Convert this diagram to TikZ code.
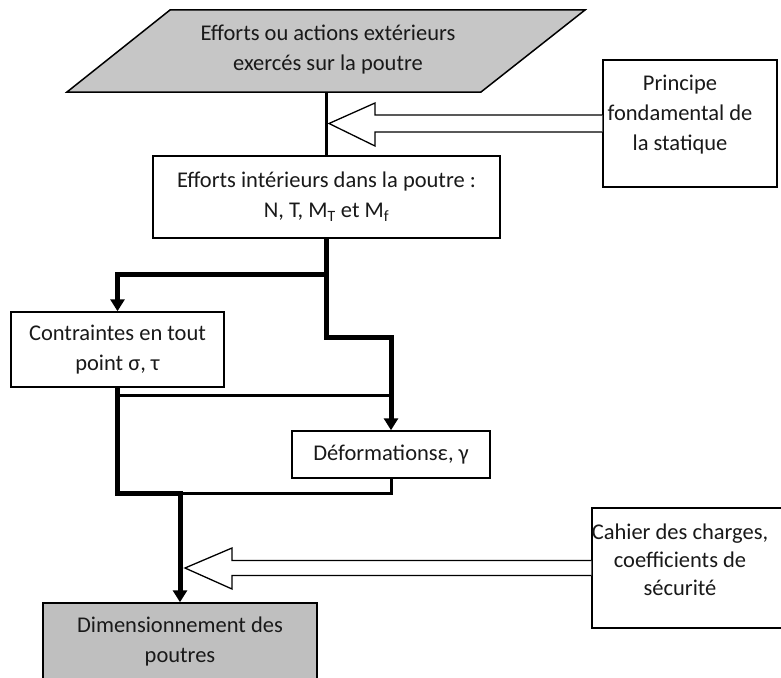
\documentclass[tikz,border=0pt]{standalone}
\usepackage{fontspec}
\setmainfont{Carlito}
\usetikzlibrary{arrows.meta,calc}
\begin{document}
\begin{tikzpicture}[x=1pt,y=-1pt,
  box/.style={draw, line width=1.5pt, fill=white, inner sep=0pt},
  txt/.style={font=\fontsize{22.5}{30}\selectfont, align=center, text=black!90},
  thickline/.style={line width=5pt},
  medline/.style={line width=3pt},
  tiparrow/.style={-{Triangle[width=14pt,length=12pt]}},
  hollow/.style={line width=1.3pt, fill=white, line join=miter}]
\useasboundingbox (0,0) rectangle (781,677);

% parallelogram
\draw[line width=1.5pt, fill=gray!45] (170,10) -- (585,10) -- (481,92) -- (67,92) -- cycle;
\node[txt] (ext) at (328,50) {Efforts ou actions extérieurs\\exercés sur la poutre};
\coordinate (extb) at (326,92);

\node[box, txt, minimum width=347pt, minimum height=82pt] (eff) at (326.5,197)
  {Efforts intérieurs dans la poutre :\\N, T, M\textsubscript{T} et M\textsubscript{f}};

\node[box, minimum width=174pt, minimum height=127pt,
  label={[txt, xshift=-10pt, yshift=9pt]center:{Principe\\fondamental de\\la statique}}]
  (pfs) at (690,123.5) {};

\node[box, txt, minimum width=213pt, minimum height=75pt] (con) at (117.5,349.5)
  {Contraintes en tout\\point σ, τ};

\node[box, txt, minimum width=198pt, minimum height=47pt] (def) at (391,454.5)
  {Déformationsε, γ};

\node[box, minimum width=198pt, minimum height=120pt,
  label={[txt, font=\fontsize{22.5}{28}\selectfont, xshift=-11pt, yshift=8pt]center:{Cahier des charges,\\coefficients de\\sécurité}}]
  (cah) at (691,568) {};

\node[box, txt, fill=gray!50, minimum width=274pt, minimum height=76pt] (dim) at (180,641)
  {Dimensionnement des\\poutres};

% connectors
\draw[medline] (extb) -- (eff.north -| extb);
\draw[thickline, tiparrow] (eff.south) -- (eff.south |- 0,337) -| (def.north);
\draw[thickline, tiparrow] (eff.south |- 0,274) -| (con.north);
\draw[medline] (con.south |- 0,395) -- (def.north |- 0,395);
\draw[thickline, tiparrow] (con.south) -- (con.south |- 0,493) -| (dim.north);
\draw[medline] (def.south) |- (dim.north |- 0,493);

% hollow arrows
\draw[hollow] ($(pfs.west)+(0,-8.5)$) -- (375,115) -- (375,103) -- (329,123.5)
  -- (375,146) -- (375,132) -- ($(pfs.west)+(0,8.5)$);
\draw[hollow] ($(cah.west)+(0,-7.5)$) -- (232,560.5) -- (232,548) -- (185,568)
  -- (232,589) -- (232,575.5) -- ($(cah.west)+(0,7.5)$);
\end{tikzpicture}
\end{document}
